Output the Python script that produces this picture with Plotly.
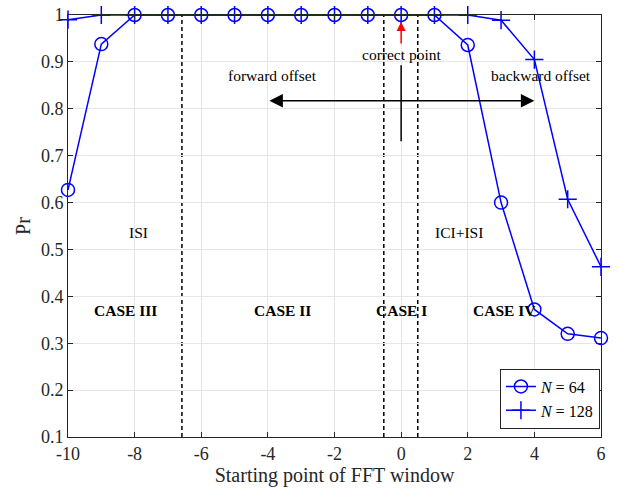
import plotly.graph_objects as go

# FFT window starting point vs. probability
offsets = [-10, -9, -8, -7, -6, -5, -4, -3, -2, -1, 0, 1, 2, 3, 4, 5, 6]
pr_n64 = [0.627, 0.938, 1, 1, 1, 1, 1, 1, 1, 1, 1, 1, 0.936, 0.6, 0.372, 0.32, 0.311]
pr_n128 = [0.99, 1, 1, 1, 1, 1, 1, 1, 1, 1, 1, 1, 1, 0.989, 0.905, 0.607, 0.463]

x_ticks = [-10, -8, -6, -4, -2, 0, 2, 4, 6]
x_tick_text = ["-10", "-8", "-6", "-4", "-2", "0", "2", "4", "6"]
y_ticks = [0.1, 0.2, 0.3, 0.4, 0.5, 0.6, 0.7, 0.8, 0.9, 1.0]
y_tick_text = ["0.1", "0.2", "0.3", "0.4", "0.5", "0.6", "0.7", "0.8", "0.9", "1"]

# region boundaries
case_bounds = [-6.58, -0.52, 0.5]

# region labels: (text, x, y, bold)
region_labels = [
    ("CASE III", -8.27, 0.369, True),
    ("CASE II", -3.56, 0.369, True),
    ("CASE I", 0.02, 0.369, True),
    ("CASE IV", 3.1, 0.369, True),
    ("ISI", -7.87, 0.537, False),
    ("ICI+ISI", 1.74, 0.537, False),
    ("forward offset", -3.87, 0.872, False),
    ("backward offset", 4.2, 0.872, False),
    ("correct point", 0.0, 0.915, False),
]

BLUE = "#0000ff"
FONT = "Liberation Serif, Times New Roman, serif"
AXIS = "#262626"

fig = go.Figure()
fig.add_trace(go.Scatter(
    x=offsets, y=pr_n64, mode="lines+markers", name="<i>N</i> = 64",
    line=dict(color=BLUE, width=1.5),
    marker=dict(symbol="circle-open", size=13, color=BLUE, line=dict(width=1.5, color=BLUE)),
    cliponaxis=False,
))
fig.add_trace(go.Scatter(
    x=offsets, y=pr_n128, mode="lines+markers", name="<i>N</i> = 128",
    line=dict(color=BLUE, width=1.5),
    marker=dict(symbol="cross-thin-open", size=13, color=BLUE, line=dict(width=1.5, color=BLUE)),
    cliponaxis=False,
))

for xb in case_bounds:
    fig.add_shape(type="line", x0=xb, x1=xb, y0=0.1, y1=1.0, xref="x", yref="y",
                  line=dict(color="black", width=1.5, dash="4px,3px"), layer="below")

# vertical bar of the offset cross
fig.add_shape(type="line", x0=0, x1=0, y0=0.731, y1=0.893, xref="x", yref="y",
              line=dict(color="black", width=1.5))

annotations = []
for text, x, y, bold in region_labels:
    annotations.append(dict(
        x=x, y=y, xref="x", yref="y", showarrow=False,
        text=f"<b>{text}</b>" if bold else text,
        font=dict(family=FONT, size=15.5, color="black"),
    ))

# double-headed offset arrow
annotations.append(dict(x=4, y=0.817, ax=-4, ay=0.817, xref="x", yref="y", axref="x", ayref="y",
                        text="", showarrow=True, arrowhead=2, arrowsize=1.8, arrowwidth=1.5,
                        arrowside="end+start", arrowcolor="black"))
# red pointer to the correct point
annotations.append(dict(x=0, y=0.985, ax=0, ay=0.936, xref="x", yref="y", axref="x", ayref="y",
                        text="", showarrow=True, arrowhead=2, arrowsize=1.2, arrowwidth=1.5,
                        arrowcolor="red"))

fig.update_layout(
    width=619, height=494,
    margin=dict(l=68, r=18, t=15, b=57),
    paper_bgcolor="white", plot_bgcolor="white",
    font=dict(family=FONT, size=18, color=AXIS),
    annotations=annotations,
    showlegend=True,
    legend=dict(x=0.998, y=0.02, xanchor="right", yanchor="bottom",
                bgcolor="white", bordercolor=AXIS, borderwidth=1,
                font=dict(family=FONT, size=16, color="black"),
                tracegroupgap=0, itemwidth=30),
)
fig.update_xaxes(
    range=[-10, 6], tickvals=x_ticks, ticktext=x_tick_text, automargin=False,
    showgrid=True, gridcolor="#e6e6e6", gridwidth=1,
    showline=True, linecolor=AXIS, linewidth=1, mirror="ticks",
    ticks="inside", ticklen=5, tickcolor=AXIS, zeroline=False,
    tickfont=dict(family=FONT, size=18, color=AXIS),
    title=dict(text="Starting point of FFT window", font=dict(family=FONT, size=20, color=AXIS), standoff=0),
)
fig.update_yaxes(
    range=[0.1, 1.0], tickvals=y_ticks, ticktext=y_tick_text, automargin=False,
    showgrid=True, gridcolor="#e6e6e6", gridwidth=1,
    showline=True, linecolor=AXIS, linewidth=1, mirror="ticks",
    ticks="inside", ticklen=5, tickcolor=AXIS, zeroline=False,
    tickfont=dict(family=FONT, size=18, color=AXIS),
    title=dict(text="Pr", font=dict(family=FONT, size=20, color=AXIS), standoff=4),
)

fig.write_html("out.html")
